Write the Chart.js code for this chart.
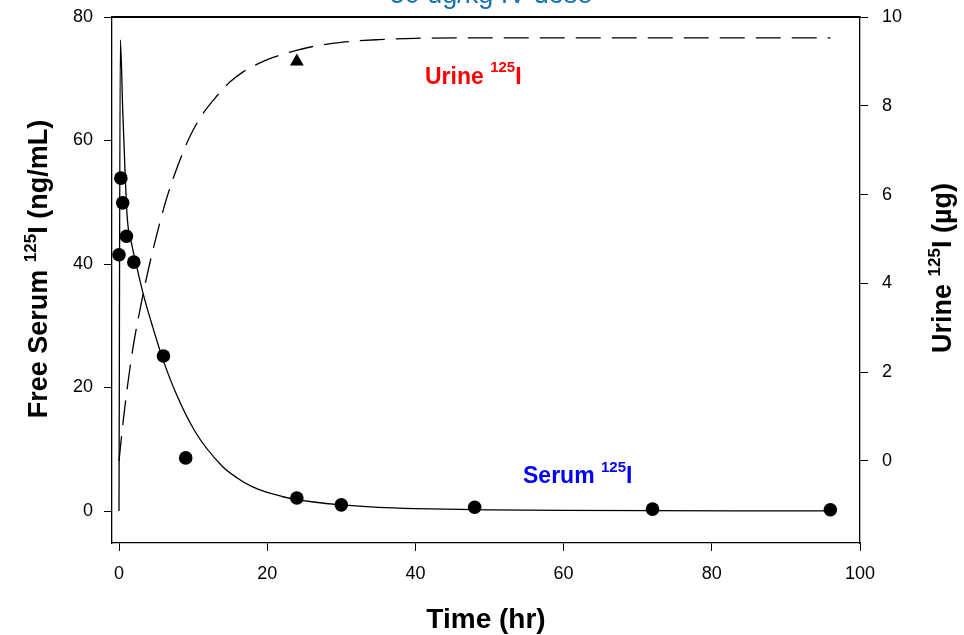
<!DOCTYPE html>
<html><head><meta charset="utf-8">
<script src="https://cdn.jsdelivr.net/npm/chart.js@4/dist/chart.umd.min.js"></script>
<style>html,body{margin:0;padding:0;background:#fff;overflow:hidden}</style>
</head><body>
<canvas id="c" width="964" height="635" style="width:964px;height:635px;display:block"></canvas>
<script>
// ---- observed data ----
const serumTime = [0, 0.25, 0.5, 1, 2, 6, 9, 24, 30, 48, 72, 96];
const serumConc = [41.5, 53.9, 49.9, 44.5, 40.3, 25.1, 8.6, 2.1, 1.0, 0.6, 0.3, 0.2];
const urineTime = [24];
const urineAmt  = [9.0];

// ---- fitted curves ----
const serumFitTime = [0, 0.18, 0.5, 0.77, 1.1, 1.75, 2.4, 3.3, 4.5, 5.8, 7.6, 10.3, 13.9, 15.9, 17.9, 20, 22, 24, 26, 30, 35, 40, 50, 60, 96];
const serumFitConc = [0, 76.3, 65, 56.4, 47.7, 43.0, 39.5, 35.0, 30.0, 25.0, 19.3, 12.8, 7.3, 5.4, 4.0, 3.0, 2.35, 1.85, 1.5, 1.0, 0.6, 0.4, 0.2, 0.1, 0.02];
const urineFitTime = [0, 0.6, 1.7, 3.3, 4.8, 6.4, 8.2, 9.6, 11.4, 13.2, 15, 16.8, 18.8, 20.8, 23.1, 26, 30, 35, 40, 50, 60, 96];
const urineFitAmt  = [0, 0.95, 2.35, 3.8, 4.9, 5.9, 6.77, 7.32, 7.84, 8.22, 8.54, 8.77, 8.95, 9.09, 9.21, 9.33, 9.43, 9.49, 9.52, 9.53, 9.53, 9.53];

// ---- ticks ----
const xTicks = [0, 20, 40, 60, 80, 100];
const leftTicks = [0, 20, 40, 60, 80];
const rightTicks = [0, 2, 4, 6, 8, 10];

// ---- labels ----
const topTitle = "50 ug/kg IV dose";
const xTitle = "Time (hr)";
const leftTitle = ["Free Serum ", "125", "I (ng/mL)"];
const rightTitle = ["Urine ", "125", "I (\u00b5g)"];
const urineLabel = ["Urine ", "125", "I"];
const serumLabel = ["Serum ", "125", "I"];

const FONT = "'Liberation Sans', Arial, Helvetica, sans-serif";
const pts = (xs, ys) => xs.map((x, i) => ({x: x, y: ys[i]}));

function drawRich(ctx, parts, size, supSize, rise, color, x, y, rotate, center) {
  ctx.save();
  ctx.fillStyle = color;
  ctx.textBaseline = 'alphabetic';
  ctx.textAlign = 'left';
  const fonts = [`bold ${size}px ${FONT}`, `bold ${supSize}px ${FONT}`, `bold ${size}px ${FONT}`];
  const widths = parts.map((p, i) => { ctx.font = fonts[i]; return ctx.measureText(p).width; });
  const total = widths.reduce((a, b) => a + b, 0);
  ctx.translate(x, y);
  if (rotate) ctx.rotate(-Math.PI / 2);
  let cx = center ? -total / 2 : 0;
  parts.forEach((p, i) => {
    ctx.font = fonts[i];
    ctx.fillText(p, cx, i === 1 ? -rise : 0);
    cx += widths[i];
  });
  ctx.restore();
}

const textPlugin = {
  id: 'texts',
  afterDraw(chart) {
    const ctx = chart.ctx;
    const a = chart.chartArea;
    ctx.save();
    ctx.strokeStyle = '#000';
    ctx.lineWidth = 2;
    ctx.beginPath();
    ctx.moveTo(a.left - 0.5, a.top);
    ctx.lineTo(a.right + 0.5, a.top);
    ctx.stroke();
    ctx.font = `27px ${FONT}`;
    ctx.fillStyle = 'rgb(24,114,178)';
    ctx.textAlign = 'center';
    ctx.textBaseline = 'alphabetic';
    ctx.fillText(topTitle, 491, 3);
    ctx.font = `bold 28px ${FONT}`;
    ctx.fillStyle = '#000';
    ctx.fillText(xTitle, (a.left + a.right) / 2, 628);
    ctx.restore();
    drawRich(ctx, leftTitle, 27, 17, 11, '#000', 47, 269, true, true);
    drawRich(ctx, rightTitle, 27, 17, 11, '#000', 951, 268, true, true);
    drawRich(ctx, urineLabel, 23, 15, 12.5, '#ff0000', 425, 84, false, false);
    drawRich(ctx, serumLabel, 23, 15, 11.5, '#0000ff', 523, 483, false, false);
  }
};

function axisCommon(ticksArr, pad) {
  return {
    type: 'linear',
    afterBuildTicks: (s) => { s.ticks = ticksArr.map(v => ({value: v})); },
    grid: {drawOnChartArea: false, drawTicks: true, tickLength: 8, color: '#000', lineWidth: 1},
    border: {display: true, color: '#000', width: 1.3},
    ticks: {color: '#000', font: {family: FONT, size: 18}, padding: pad, autoSkip: false, maxRotation: 0}
  };
}

const xAxis = Object.assign(axisCommon(xTicks, 12), {position: 'bottom', min: -0.945, max: 100,
  afterFit: (s) => { s.height = 92; s.paddingLeft = 0; s.paddingRight = 0; }});
const yAxis = Object.assign(axisCommon(leftTicks, 11), {position: 'left', min: -5.18, max: 80,
  afterFit: (s) => { s.width = 112; s.paddingTop = 0; s.paddingBottom = 0; }});
const y2Axis = Object.assign(axisCommon(rightTicks, 14), {position: 'right', min: -1.847, max: 10,
  afterFit: (s) => { s.width = 104; s.paddingTop = 0; s.paddingBottom = 0; }});

new Chart(document.getElementById('c'), {
  type: 'line',
  data: {
    datasets: [
      {data: pts(serumFitTime, serumFitConc), yAxisID: 'y', borderColor: '#000', borderWidth: 1.3,
       pointRadius: 0, cubicInterpolationMode: 'monotone', fill: false},
      {data: pts(urineFitTime, urineFitAmt), yAxisID: 'y2', borderColor: '#000', borderWidth: 1.3,
       borderDash: [25, 11], pointRadius: 0, cubicInterpolationMode: 'monotone', fill: false},
      {data: pts(serumTime, serumConc), yAxisID: 'y', showLine: false, pointRadius: 6.8,
       pointBackgroundColor: '#000', pointBorderColor: '#000', pointBorderWidth: 0, pointStyle: 'circle'},
      {data: pts(urineTime, urineAmt), yAxisID: 'y2', showLine: false, pointRadius: 8,
       pointBackgroundColor: '#000', pointBorderColor: '#000', pointBorderWidth: 0, pointStyle: 'triangle'}
    ]
  },
  options: {
    responsive: false,
    animation: false,
    devicePixelRatio: 1,
    layout: {padding: {top: 17, left: 0, right: 0, bottom: 0}},
    plugins: {legend: {display: false}, tooltip: {enabled: false}, title: {display: false}},
    scales: {x: xAxis, y: yAxis, y2: y2Axis}
  },
  plugins: [textPlugin]
});
</script>
</body></html>
